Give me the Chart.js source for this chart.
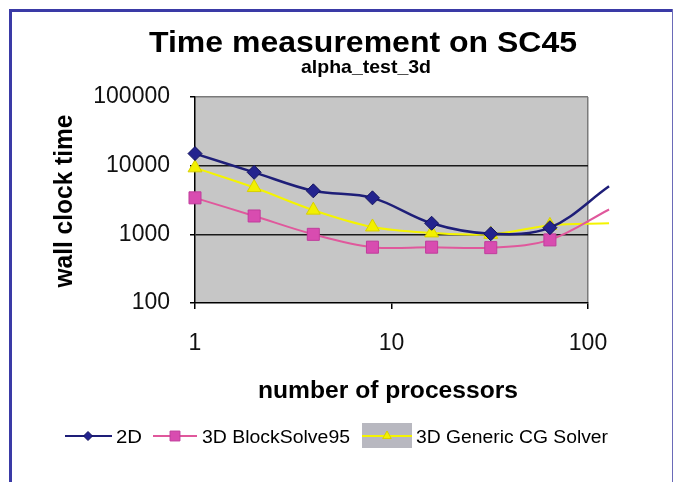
<!DOCTYPE html>
<html>
<head>
<meta charset="utf-8">
<script src="https://cdn.jsdelivr.net/npm/chart.js@4.4.1/dist/chart.umd.min.js"></script>
<style>
  body { margin: 0; background: #fff; }
  canvas { display: block; }
</style>
</head>
<body>
<canvas id="timeChart" width="673" height="482"></canvas>
<script>
// values
const processors = [1, 2, 4, 8, 16, 32, 64, 128];
const time2D = [15000, 8000, 4300, 3400, 1450, 1020, 1250, 5000];
const timeBlockSolve = [3400, 1850, 1000, 650, 650, 640, 830, 2300];
const timeGenericCG = [9300, 4800, 2250, 1280, 1050, 1000, 1350, 1450];
const xTicks = [1, 10, 100];
const yTicks = [100, 1000, 10000, 100000];

const FONT = '"Liberation Sans", Arial, sans-serif';

function pts(values) {
  return processors.map((p, i) => ({ x: p, y: values[i] }));
}
// last point lies past the axis end: line only, no marker
function radii(r) {
  return processors.map((p, i) => (i === processors.length - 1 ? 0 : r));
}

// text drawn with a horizontal stretch to the width seen in the picture
function stretchText(ctx, text, x, y, font, width, align, rot) {
  ctx.save();
  ctx.font = font;
  const w = ctx.measureText(text).width;
  ctx.translate(x, y);
  if (rot) ctx.rotate(rot);
  ctx.scale(width / w, 1);
  ctx.textAlign = align;
  ctx.textBaseline = 'alphabetic';
  ctx.fillStyle = '#000';
  ctx.fillText(text, 0, 0);
  ctx.restore();
}

const decor = {
  id: 'decor',
  beforeDraw(chart) {
    const c = chart.ctx, a = chart.chartArea;
    c.save();
    c.fillStyle = '#fff';
    c.fillRect(0, 0, chart.width, chart.height);
    // blue frame
    c.fillStyle = '#3a3aa6';
    c.fillRect(9, 9, 3, chart.height - 9);
    c.fillRect(9, 9, chart.width - 9, 3);
    c.fillStyle = '#6a6ab8';
    c.fillRect(chart.width - 1, 9, 1, chart.height - 9);
    // plot area
    c.fillStyle = '#c6c6c6';
    c.fillRect(a.left, a.top, a.right - a.left, a.bottom - a.top);
    c.restore();
  },
  afterDraw(chart) {
    const c = chart.ctx;
    stretchText(c, 'Time measurement on SC45', 363, 52, 'bold 29px ' + FONT, 428, 'center');
    stretchText(c, 'alpha_test_3d', 366, 73, 'bold 19px ' + FONT, 130, 'center');
    stretchText(c, 'wall clock time', 72, 201, 'bold 26px ' + FONT, 173, 'center', -Math.PI / 2);
    stretchText(c, 'number of processors', 388, 398, 'bold 23px ' + FONT, 260, 'center');

    // legend
    const ly = 436;
    const ds = chart.data.datasets;
    c.save();
    // 2D
    c.strokeStyle = ds[0].borderColor; c.lineWidth = 2;
    c.beginPath(); c.moveTo(65, ly); c.lineTo(112, ly); c.stroke();
    c.fillStyle = ds[0].pointBackgroundColor; c.strokeStyle = ds[0].pointBorderColor; c.lineWidth = 1;
    Chart.helpers.drawPoint(c, { pointStyle: 'rectRot', radius: 4.5, borderWidth: 1 }, 88, ly);
    // BlockSolve
    c.strokeStyle = ds[1].borderColor; c.lineWidth = 2;
    c.beginPath(); c.moveTo(153, ly); c.lineTo(197, ly); c.stroke();
    c.fillStyle = ds[1].pointBackgroundColor; c.strokeStyle = ds[1].pointBorderColor; c.lineWidth = 1;
    Chart.helpers.drawPoint(c, { pointStyle: 'rect', radius: 7, borderWidth: 1 }, 175, ly);
    // Generic CG
    c.fillStyle = '#b8b8c0';
    c.fillRect(362, 423, 50, 25);
    c.strokeStyle = ds[2].borderColor; c.lineWidth = 2;
    c.beginPath(); c.moveTo(362, ly); c.lineTo(412, ly); c.stroke();
    c.fillStyle = ds[2].pointBackgroundColor; c.strokeStyle = ds[2].pointBorderColor; c.lineWidth = 1;
    Chart.helpers.drawPoint(c, { pointStyle: 'triangle', radius: 5, borderWidth: 1 }, 387, ly);
    c.restore();
    stretchText(c, '2D', 116, 443, '18px ' + FONT, 26, 'left');
    stretchText(c, '3D BlockSolve95', 202, 443, '18px ' + FONT, 148, 'left');
    stretchText(c, '3D Generic CG Solver', 416, 443, '18px ' + FONT, 192, 'left');
  }
};

const ctx = document.getElementById('timeChart').getContext('2d');
new Chart(ctx, {
  type: 'line',
  data: {
    datasets: [{
      label: '2D',
      data: pts(time2D),
      borderColor: '#1e1e78',
      borderWidth: 2.5,
      pointStyle: 'rectRot',
      pointRadius: radii(7),
      pointBackgroundColor: '#23238e',
      pointBorderColor: '#14145e',
      pointBorderWidth: 1,
      tension: 0.35,
      clip: false
    }, {
      label: '3D BlockSolve95',
      data: pts(timeBlockSolve),
      borderColor: '#e0589c',
      borderWidth: 2,
      pointStyle: 'rect',
      pointRadius: radii(8.5),
      pointBackgroundColor: '#d84cb0',
      pointBorderColor: '#c03c9c',
      pointBorderWidth: 1,
      tension: 0.35,
      clip: false
    }, {
      label: '3D Generic CG Solver',
      data: pts(timeGenericCG),
      borderColor: '#f4f400',
      borderWidth: 2,
      pointStyle: 'triangle',
      pointRadius: radii(8),
      pointBackgroundColor: '#f2f000',
      pointBorderColor: '#d8d000',
      pointBorderWidth: 1,
      tension: 0.35,
      clip: false
    }]
  },
  options: {
    responsive: false,
    animation: false,
    layout: { padding: { top: 97, right: 85, left: 0, bottom: 0 } },
    plugins: {
      legend: { display: false },
      title: { display: false },
      tooltip: { enabled: false }
    },
    scales: {
      x: {
        type: 'logarithmic',
        min: 1,
        max: 100,
        afterBuildTicks: s => { s.ticks = xTicks.map(v => ({ value: v })); },
        afterFit: s => { s.height = 179; },
        ticks: {
          autoSkip: false,
          maxRotation: 0,
          padding: 21,
          color: '#111',
          font: { family: FONT, size: 23 },
          callback: v => String(v)
        },
        grid: {
          drawOnChartArea: true,
          color: c => (c.tick && c.tick.value === 100 ? '#7a7a7a' : 'rgba(0,0,0,0)'),
          tickColor: '#000',
          tickLength: 6,
          lineWidth: 1.5
        },
        border: { color: '#000', width: 1.5 }
      },
      y: {
        type: 'logarithmic',
        min: 100,
        max: 100000,
        afterBuildTicks: s => { s.ticks = yTicks.map(v => ({ value: v })); },
        afterFit: s => { s.width = 195; },
        ticks: {
          autoSkip: false,
          padding: 20,
          color: '#111',
          font: { family: FONT, size: 23 },
          callback: v => String(v)
        },
        grid: {
          color: c => {
            const v = c.tick && c.tick.value;
            if (v === 100000) return '#7a7a7a';
            if (v === 100) return 'rgba(0,0,0,0)';
            return '#1a1a1a';
          },
          tickColor: '#000',
          tickLength: 5,
          lineWidth: 1.5
        },
        border: { color: '#000', width: 1.5 }
      }
    }
  },
  plugins: [decor]
});
</script>
</body>
</html>
